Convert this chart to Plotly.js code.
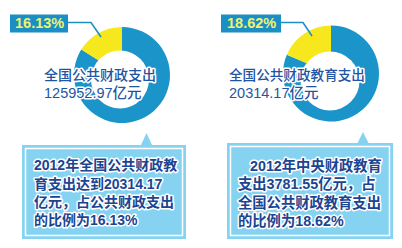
<!DOCTYPE html>
<html>
<head>
<meta charset="utf-8">
<script src="https://cdn.plot.ly/plotly-3.0.1.min.js"></script>
<style>
html,body{margin:0;padding:0;background:#fff;}
#chart{width:402px;height:248px;}
g.annotation text{paint-order:stroke;stroke:#fff;stroke-width:3px;stroke-linejoin:round;}
g.annotation[data-index="0"] text, g.annotation[data-index="1"] text{stroke:none;}
</style>
</head>
<body>
<div id="chart"></div>
<script>
// ---- data ----
const sliceLabels = ['其他支出', '教育支出'];
const leftValues = [83.87, 16.13];
const rightValues = [81.38, 18.62];
const pctLabels = ['16.13%', '18.62%'];
const centerLeft = ['全国公共财政支出', '125952.97亿元'];
const centerRight = ['全国公共财政教育支出', '20314.17亿元'];
const noteLeft = ['2012年全国公共财政教', '育支出达到20314.17', '亿元，占公共财政支出', '的比例为16.13%'];
const noteRight = ['2012年中央财政教育', '支出3781.55亿元，占', '全国公共财政教育支出', '的比例为18.62%'];

// ---- styling ----
const W = 402, H = 248;
const px = x => x / W;
const py = y => 1 - y / H;
const BLUE = '#1a94c9';
const YELLOW = '#f6e81c';
const LABELBG = '#1a8ec5';
const BOXFILL = '#86d3f1';
const FONT = 'Liberation Sans, Arial, Noto Sans CJK SC, sans-serif';

function pie(values, cx, cy, r) {
  return {
    type: 'pie', values: values, labels: sliceLabels,
    sort: false, direction: 'clockwise', rotation: 0,
    marker: {colors: [BLUE, YELLOW], line: {width: 0}},
    textinfo: 'none', hoverinfo: 'skip', hole: 0,
    domain: {x: [px(cx - r), px(cx + r)], y: [py(cy + r), py(cy - r)]}
  };
}

const data = [pie(leftValues, 122, 75, 48), pie(rightValues, 331, 73.5, 48)];

const shapes = [];
function circ(cx, cy, r) {
  shapes.push({type: 'circle', xref: 'paper', yref: 'paper', layer: 'above',
    x0: px(cx - r), x1: px(cx + r), y0: py(cy + r), y1: py(cy - r),
    fillcolor: '#ffffff', line: {width: 0}});
}
circ(120, 79.5, 29);
circ(330, 81, 29.5);

function rect(x0, y0, x1, y1, fill, lineColor, lw) {
  shapes.push({type: 'rect', xref: 'paper', yref: 'paper', layer: 'above',
    x0: px(x0), x1: px(x1), y0: py(y1), y1: py(y0),
    fillcolor: fill, line: {color: lineColor, width: lw}});
}
function path(pts, fill, lineColor, lw, closed) {
  let d = pts.map((p, i) => (i ? 'L' : 'M') + px(p[0]).toFixed(5) + ',' + py(p[1]).toFixed(5)).join(' ');
  if (closed) d += ' Z';
  shapes.push({type: 'path', xref: 'paper', yref: 'paper', layer: 'above', path: d,
    fillcolor: fill, line: {color: lineColor, width: lw}});
}

// percentage label boxes and leader lines
rect(10, 14.5, 68, 32.5, LABELBG, LABELBG, 0);
path([[68, 22.5], [91, 22.5], [101, 37]], 'rgba(0,0,0,0)', LABELBG, 1.6, false);
rect(221, 14.5, 281, 32.5, LABELBG, LABELBG, 0);
path([[281, 22.5], [303, 22.5], [312, 36]], 'rgba(0,0,0,0)', LABELBG, 1.6, false);

// note boxes
rect(22, 145, 186, 239, BOXFILL, BOXFILL, 0);
path([[140.5, 146], [146.5, 133], [152.5, 146]], BOXFILL, BOXFILL, 0, true);
rect(25.5, 148.5, 182.5, 235.5, 'rgba(0,0,0,0)', '#ffffff', 1.5);
rect(227, 143, 393, 239, BOXFILL, BOXFILL, 0);
path([[357, 144], [363, 132], [369, 144]], BOXFILL, BOXFILL, 0, true);
rect(230.5, 146.5, 389.5, 235.5, 'rgba(0,0,0,0)', '#ffffff', 1.5);

const annotations = [];
function txt(t, x, y, size, color, weight) {
  annotations.push({text: t, xref: 'paper', yref: 'paper', x: px(x), y: py(y),
    xanchor: 'left', yanchor: 'middle', showarrow: false,
    font: {family: FONT, size: size, color: color, weight: weight || 'normal'}});
}
txt(pctLabels[0], 13, 23.5, 14.5, '#eef46c', 'bold');
txt(pctLabels[1], 225, 23.5, 14.5, '#eef46c', 'bold');

const DARK = '#1f55a3';
txt(centerLeft[0], 42, 75, 14, DARK, 500);
txt(centerLeft[1], 42, 93, 14.5, DARK, 500);
txt(centerRight[0], 227, 75, 13.6, DARK, 500);
txt(centerRight[1], 227, 93, 14.5, DARK, 500);

const NAVY = '#1c4490';
const ly = [165, 183.5, 202, 220];
noteLeft.forEach((t, i) => txt(t, 32, ly[i], 14, NAVY, 'bold'));
noteRight.forEach((t, i) => txt(t, i === 0 ? 248 : 236, ly[i], 14.3, NAVY, 'bold'));

const layout = {
  width: W, height: H, margin: {l: 0, r: 0, t: 0, b: 0},
  paper_bgcolor: '#ffffff', showlegend: false,
  shapes: shapes, annotations: annotations
};
Plotly.newPlot('chart', data, layout, {staticPlot: true, displayModeBar: false});
</script>
</body>
</html>
